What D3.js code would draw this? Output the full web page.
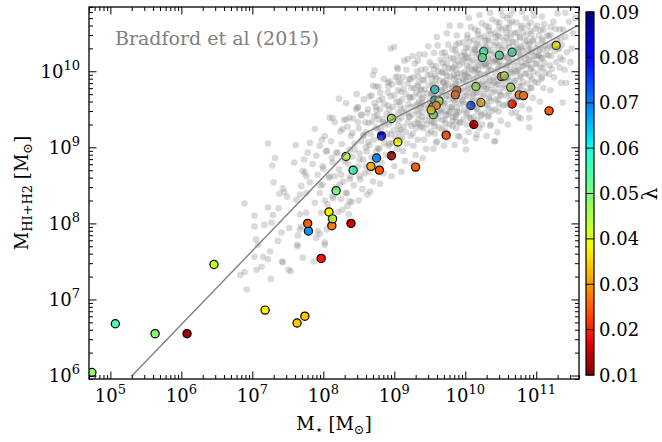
<!DOCTYPE html>
<html><head><meta charset="utf-8">
<script src="https://cdn.jsdelivr.net/npm/d3@7"></script>
<style>body{margin:0;background:#fff} text{font-family:"DejaVu Serif",serif}</style>
</head><body><svg id="c" width="662" height="442"></svg>
<script>
// ---- data (log10 values) ----
const simLogMstar = [4.74,5.07,5.63,6.08,6.46,7.18,7.63,7.74,7.97,7.79,7.78,8.12,8.39,8.08,8.13,8.18,8.42,8.32,8.67,8.79,8.75,8.96,8.82,9.05,9.30,8.96,9.73,10.12,11.18,11.28,10.26,10.24,10.48,10.66,10.51,10.55,10.64,10.76,10.82,10.66,10.22,10.08,10.15,9.88,9.86,9.57,9.57,9.63,9.54,9.59,9.55,9.52];
const simLogMgas  = [6.04,6.68,6.55,6.55,7.46,6.86,6.69,6.78,7.54,7.90,8.00,7.97,8.00,8.15,8.06,8.43,8.70,8.88,8.75,8.70,8.86,8.89,9.15,9.07,8.74,9.38,9.16,9.30,9.48,10.34,10.26,10.18,10.21,10.25,9.93,9.94,9.79,9.69,9.68,9.57,9.59,9.55,9.80,9.75,9.69,9.62,9.76,9.61,9.53,9.55,9.43,9.49];
const simLambda   = [0.048,0.055,0.049,0.012,0.043,0.038,0.034,0.034,0.019,0.068,0.025,0.028,0.016,0.038,0.043,0.05,0.056,0.045,0.032,0.024,0.069,0.013,0.082,0.038,0.025,0.045,0.024,0.013,0.025,0.037,0.055,0.053,0.054,0.057,0.03,0.042,0.045,0.028,0.026,0.019,0.033,0.075,0.046,0.024,0.025,0.063,0.062,0.045,0.034,0.029,0.048,0.035];

const fitLogMstar = [5.298, 8.603, 9.634, 10.572, 11.579];
const fitLogMgas  = [5.99, 9.193, 9.68, 10.075, 10.601];

const bradfordPoints = [
[7.22,9.05],[7.61,9.03],[7.32,8.86],[7.28,8.76],[7.59,8.80],[7.73,8.84],[7.71,8.69],[7.76,8.62],[7.30,8.54],[7.43,8.46],[7.45,8.41],[7.38,8.39],[7.49,8.35],[6.89,8.26],[7.22,8.21],[7.37,8.20],[7.62,8.31],[7.67,8.38],[7.69,8.49],[7.03,8.10],[7.29,8.11],[7.67,8.12],[7.03,7.96],[7.17,7.98],[7.27,8.01],[7.52,7.94],[7.41,7.88],[7.67,7.92],[7.78,8.93],[7.81,9.06],
[7.05,7.79],[7.08,7.72],[7.25,7.63],[7.03,7.56],[7.36,7.77],[7.63,7.72],[7.64,7.84],[7.22,7.53],[7.42,7.50],[7.13,7.43],[7.06,7.39],[6.89,7.36],[6.83,7.32],[7.51,7.39],[7.26,7.27],[6.92,7.13],[7.71,7.55],[7.87,7.50],[7.90,7.81],[8.02,7.72],[7.92,7.90],[8.05,7.92],[7.15,7.56],[7.54,7.37],[7.64,7.70],[7.43,7.49],[7.95,7.86],[8.02,7.75],[7.69,7.96],
[7.88,9.24],[8.02,9.15],[7.95,9.02],[8.11,9.08],[7.90,8.89],[8.04,8.95],[8.18,8.93],[7.85,8.78],[7.99,8.75],[8.13,8.80],[7.74,8.67],[7.92,8.64],[8.09,8.62],[8.25,8.64],[7.81,8.54],[7.99,8.51],[8.23,8.51],[8.37,8.58],[7.76,8.40],[7.95,8.40],[8.13,8.36],[8.32,8.40],[7.88,8.27],[8.06,8.25],[8.37,8.29],[8.27,8.18],[7.97,8.14],[7.76,8.14],[8.34,8.23],[8.51,8.62],[8.60,8.75],[8.51,8.84],[8.44,8.97],[8.27,9.24],[8.41,9.19],[8.56,9.15],[8.16,9.33],[8.32,9.37],[8.49,9.33],[8.53,9.43],[8.72,9.41],[8.84,9.33],
[8.72,10.01],[9.05,10.03],[9.19,10.16],[9.26,10.20],[9.33,10.14],[8.93,9.87],[9.05,9.93],[8.65,9.67],[8.80,9.72],[8.22,9.64],[8.49,9.53],[8.37,9.39],[8.13,9.39],[8.74,9.53],[9.00,10.32],[8.09,9.39],[8.70,9.81],[8.91,9.85],
[8.21,8.15],[8.25,8.32],[8.18,8.47],[8.28,8.55],[8.22,8.71],[8.30,8.82],[8.20,8.93],[8.26,9.04],[8.24,9.21],[8.29,9.36],[8.16,8.62],[8.12,8.86],[8.14,8.33],[8.10,8.05],[8.08,8.60],[8.05,8.95],[8.02,8.30],[8.00,8.72],[7.96,8.50],[7.98,9.10],
[8.36,8.12],[8.40,8.28],[8.33,8.40],[8.43,8.50],[8.38,8.62],[8.45,8.70],[8.35,8.78],[8.41,8.88],[8.37,8.97],[8.44,9.05],[8.39,9.15],[8.34,9.27],[8.42,9.38],[8.46,9.50],[8.32,9.58],
[8.50,8.30],[8.55,8.45],[8.52,8.58],[8.58,8.66],[8.49,8.75],[8.56,8.84],[8.51,8.92],[8.60,9.00],[8.53,9.08],[8.57,9.16],[8.50,9.25],[8.59,9.33],[8.54,9.42],[8.48,9.52],[8.57,9.63],[8.62,8.38],[8.47,9.70],
[8.66,8.42],[8.70,8.55],[8.64,8.68],[8.73,8.78],[8.68,8.87],[8.75,8.95],[8.65,9.03],[8.71,9.10],[8.67,9.18],[8.74,9.26],[8.69,9.34],[8.76,9.42],[8.63,9.50],[8.72,9.58],[8.68,9.68],[8.74,9.80],[8.70,9.95],
[8.80,8.52],[8.85,8.66],[8.82,8.80],[8.88,8.90],[8.79,8.98],[8.86,9.05],[8.83,9.12],[8.90,9.18],[8.81,9.24],[8.87,9.30],[8.84,9.37],[8.89,9.44],[8.80,9.50],[8.86,9.57],[8.83,9.64],[8.91,9.72],[8.78,9.80],[8.85,9.90],[8.95,10.30],[8.92,9.02],[8.93,9.50],
[8.96,8.62],[9.00,8.75],[8.98,8.88],[9.04,8.98],[8.97,9.06],[9.02,9.14],[8.99,9.22],[9.05,9.28],[8.96,9.34],[9.01,9.40],[9.06,9.46],[8.98,9.53],[9.03,9.60],[9.00,9.68],[9.05,9.75],[8.97,9.83],[9.02,9.92],[9.04,10.05],[9.07,9.20],[9.08,9.55],[9.09,9.85],
[9.10,8.68],[9.15,8.82],[9.12,8.95],[9.18,9.05],[9.11,9.13],[9.16,9.20],[9.13,9.27],[9.19,9.33],[9.10,9.39],[9.17,9.45],[9.14,9.51],[9.20,9.57],[9.11,9.63],[9.16,9.70],[9.13,9.77],[9.19,9.84],[9.12,9.92],[9.17,10.02],[9.14,10.14],[9.21,9.40],[9.22,9.66],[9.23,9.90],
[9.25,8.78],[9.30,8.90],[9.27,9.02],[9.33,9.10],[9.26,9.18],[9.31,9.25],[9.28,9.31],[9.34,9.37],[9.25,9.43],[9.32,9.48],[9.29,9.54],[9.35,9.60],[9.26,9.66],[9.31,9.72],[9.28,9.78],[9.34,9.85],[9.27,9.92],[9.32,10.00],[9.29,10.10],[9.35,10.22],[9.36,9.30],[9.37,9.55],[9.38,9.75],
[9.40,8.86],[9.45,8.98],[9.42,9.10],[9.48,9.18],[9.41,9.25],[9.46,9.30],[9.43,9.36],[9.49,9.41],[9.40,9.46],[9.47,9.51],[9.44,9.56],[9.50,9.61],[9.41,9.66],[9.46,9.71],[9.43,9.76],[9.49,9.82],[9.42,9.88],[9.47,9.95],[9.44,10.03],[9.50,10.12],[9.43,10.22],[9.48,10.33],[9.51,9.35],[9.52,9.68],[9.53,9.90],[9.39,9.58],
[9.55,8.98],[9.60,9.08],[9.57,9.18],[9.63,9.26],[9.56,9.32],[9.61,9.38],[9.58,9.43],[9.64,9.48],[9.55,9.53],[9.62,9.58],[9.59,9.63],[9.65,9.68],[9.56,9.73],[9.61,9.78],[9.58,9.83],[9.64,9.88],[9.57,9.94],[9.62,10.00],[9.59,10.07],[9.65,10.15],[9.56,10.24],[9.61,10.34],[9.60,10.45],[9.66,9.45],[9.67,9.75],[9.68,9.98],[9.54,9.70],
[9.70,9.02],[9.75,9.12],[9.72,9.22],[9.78,9.30],[9.71,9.37],[9.76,9.43],[9.73,9.48],[9.79,9.53],[9.70,9.58],[9.77,9.63],[9.74,9.68],[9.80,9.73],[9.71,9.78],[9.76,9.83],[9.73,9.88],[9.79,9.93],[9.72,9.98],[9.77,10.04],[9.74,10.10],[9.80,10.17],[9.71,10.25],[9.76,10.35],[9.74,10.50],[9.81,9.50],[9.82,9.80],[9.83,10.05],[9.69,9.85],[9.78,10.60],
[9.85,9.03],[9.90,9.15],[9.87,9.25],[9.93,9.33],[9.86,9.40],[9.91,9.46],[9.88,9.52],[9.94,9.57],[9.85,9.62],[9.92,9.67],[9.89,9.72],[9.95,9.77],[9.86,9.82],[9.91,9.87],[9.88,9.92],[9.94,9.97],[9.87,10.02],[9.92,10.08],[9.89,10.14],[9.95,10.20],[9.86,10.28],[9.91,10.37],[9.88,10.47],[9.93,10.60],[9.96,9.60],[9.97,9.90],[9.98,10.15],[9.84,9.95],
[10.00,9.08],[10.05,9.20],[10.02,9.30],[10.08,9.38],[10.01,9.45],[10.06,9.51],[10.03,9.57],[10.09,9.62],[10.00,9.67],[10.07,9.72],[10.04,9.77],[10.10,9.82],[10.01,9.87],[10.06,9.92],[10.03,9.97],[10.09,10.02],[10.02,10.07],[10.07,10.12],[10.04,10.18],[10.10,10.24],[10.01,10.31],[10.06,10.39],[10.03,10.48],[10.08,10.58],[10.05,10.70],[10.11,9.70],[10.12,10.00],[10.13,10.30],[9.99,9.95],[10.00,10.22],
[10.15,9.12],[10.20,9.25],[10.17,9.35],[10.23,9.43],[10.16,9.50],[10.21,9.56],[10.18,9.62],[10.24,9.67],[10.15,9.72],[10.22,9.77],[10.19,9.82],[10.25,9.87],[10.16,9.92],[10.21,9.97],[10.18,10.02],[10.24,10.07],[10.17,10.12],[10.22,10.17],[10.19,10.23],[10.25,10.29],[10.16,10.36],[10.21,10.44],[10.18,10.53],[10.23,10.63],[10.20,10.74],[10.26,9.80],[10.27,10.10],[10.28,10.40],[10.14,10.05],[10.15,10.28],
[10.30,9.15],[10.35,9.28],[10.32,9.40],[10.38,9.48],[10.31,9.55],[10.36,9.61],[10.33,9.67],[10.39,9.72],[10.30,9.77],[10.37,9.82],[10.34,9.87],[10.40,9.92],[10.31,9.97],[10.36,10.02],[10.33,10.07],[10.39,10.12],[10.32,10.17],[10.37,10.22],[10.34,10.28],[10.40,10.34],[10.31,10.41],[10.36,10.49],[10.33,10.58],[10.38,10.68],[10.35,10.77],[10.41,9.85],[10.42,10.15],[10.43,10.45],[10.29,10.10],[10.30,10.32],
[10.45,9.20],[10.50,9.35],[10.47,9.47],[10.53,9.55],[10.46,9.62],[10.51,9.68],[10.48,9.73],[10.54,9.78],[10.45,9.83],[10.52,9.88],[10.49,9.93],[10.55,9.98],[10.46,10.03],[10.51,10.08],[10.48,10.13],[10.54,10.18],[10.47,10.23],[10.52,10.28],[10.49,10.34],[10.55,10.40],[10.46,10.47],[10.51,10.55],[10.48,10.64],[10.53,10.73],[10.56,9.90],[10.57,10.20],[10.58,10.50],[10.44,10.15],[10.50,10.80],
[10.60,9.30],[10.65,9.45],[10.62,9.56],[10.68,9.64],[10.61,9.71],[10.66,9.77],[10.63,9.82],[10.69,9.87],[10.60,9.92],[10.67,9.97],[10.64,10.02],[10.70,10.07],[10.61,10.12],[10.66,10.17],[10.63,10.22],[10.69,10.27],[10.62,10.32],[10.67,10.38],[10.64,10.44],[10.70,10.50],[10.61,10.57],[10.66,10.65],[10.63,10.74],[10.71,10.00],[10.72,10.30],[10.59,10.08],[10.68,10.80],
[10.75,9.40],[10.80,9.55],[10.77,9.66],[10.83,9.74],[10.76,9.80],[10.81,9.86],[10.78,9.92],[10.84,9.97],[10.75,10.02],[10.82,10.07],[10.79,10.12],[10.85,10.17],[10.76,10.22],[10.81,10.27],[10.78,10.33],[10.84,10.39],[10.77,10.45],[10.82,10.52],[10.79,10.60],[10.85,10.70],[10.86,10.10],[10.87,10.40],[10.74,10.30],[10.80,10.78],
[10.90,9.50],[10.95,9.65],[10.92,9.78],[10.98,9.86],[10.91,9.93],[10.96,9.99],[10.93,10.05],[10.99,10.10],[10.90,10.15],[10.97,10.20],[10.94,10.25],[11.00,10.30],[10.91,10.36],[10.96,10.42],[10.93,10.49],[10.99,10.56],[10.92,10.64],[10.97,10.73],[11.01,10.20],[10.89,10.28],[10.95,10.80],
[11.05,9.60],[11.10,9.78],[11.07,9.90],[11.13,9.98],[11.06,10.05],[11.11,10.11],[11.08,10.17],[11.14,10.22],[11.05,10.28],[11.12,10.34],[11.09,10.40],[11.15,10.47],[11.06,10.54],[11.11,10.62],[11.08,10.72],[11.16,10.30],[11.04,10.20],
[11.20,9.75],[11.25,9.92],[11.22,10.03],[11.28,10.12],[11.21,10.20],[11.26,10.27],[11.23,10.34],[11.29,10.41],[11.20,10.48],[11.27,10.56],[11.24,10.65],[11.30,10.76],[11.31,10.30],
[11.35,9.85],[11.40,10.02],[11.37,10.15],[11.43,10.25],[11.36,10.35],[11.41,10.45],[11.38,10.55],[11.46,10.65],[11.50,10.30],[11.48,10.12],[11.52,10.50],[11.55,10.70],
[11.41,10.77],[10.01,8.97],[10.41,9.08],[9.59,9.06],[10.90,9.39],[11.37,9.59],[11.42,9.85],
[9.78,9.46],[9.87,9.43],[9.82,9.35],[9.92,9.32],[10.06,9.39],[9.92,9.14],[10.16,9.17],[10.22,9.41],[10.24,9.30],[10.36,9.30],[10.33,9.42],[10.42,9.08],[10.78,9.38],[10.90,9.26],[10.71,9.46],
// denser core, second pass
[8.61,8.95],[8.63,9.07],[8.60,9.20],[8.64,9.32],[8.62,9.45],
[8.77,8.99],[8.79,9.12],[8.76,9.24],[8.78,9.37],[8.75,9.49],[8.79,9.62],
[8.93,9.05],[8.95,9.17],[8.92,9.30],[8.94,9.42],[8.91,9.55],[8.95,9.67],[8.92,9.80],
[9.08,9.10],[9.09,9.23],[9.06,9.35],[9.10,9.48],[9.07,9.60],[9.09,9.73],[9.06,9.86],
[9.23,9.15],[9.24,9.28],[9.21,9.40],[9.23,9.53],[9.22,9.65],[9.24,9.78],[9.21,9.90],
[9.33,9.32],[9.34,9.44],[9.32,9.57],[9.35,9.69],[9.33,9.81],[9.34,9.93],
[9.38,9.27],[9.39,9.40],[9.37,9.52],[9.39,9.64],[9.37,9.77],[9.40,9.89],[9.38,10.02],
[9.52,9.21],[9.53,9.33],[9.51,9.46],[9.53,9.58],[9.52,9.71],[9.54,9.83],[9.51,9.96],[9.53,10.08],
[9.57,9.28],[9.58,9.41],[9.56,9.52],[9.58,9.66],[9.57,9.78],[9.59,9.91],[9.56,10.03],
[9.67,9.24],[9.68,9.36],[9.66,9.49],[9.68,9.61],[9.67,9.73],[9.69,9.86],[9.66,9.99],[9.68,10.11],[9.67,10.24],
[9.72,9.31],[9.73,9.43],[9.71,9.56],[9.73,9.68],[9.72,9.81],[9.74,9.94],[9.71,10.06],[9.73,10.19],
[9.82,9.28],[9.83,9.40],[9.81,9.53],[9.83,9.65],[9.82,9.78],[9.84,9.90],[9.81,10.03],[9.83,10.16],[9.82,10.29],
[9.87,9.34],[9.88,9.47],[9.86,9.59],[9.88,9.72],[9.87,9.84],[9.89,9.97],[9.86,10.09],[9.88,10.22],[9.87,10.35],
[9.97,9.37],[9.98,9.49],[9.96,9.62],[9.98,9.74],[9.97,9.87],[9.99,9.99],[9.96,10.12],[9.98,10.25],[9.97,10.38],
[10.03,9.43],[10.04,9.55],[10.02,9.68],[10.04,9.80],[10.03,9.93],[10.05,10.05],[10.02,10.18],[10.04,10.31],[10.03,10.44],
[10.12,9.40],[10.13,9.53],[10.11,9.65],[10.13,9.78],[10.12,9.90],[10.14,10.03],[10.11,10.15],[10.13,10.28],[10.12,10.41],[10.14,10.55],
[10.18,9.47],[10.19,9.59],[10.17,9.72],[10.19,9.84],[10.18,9.97],[10.20,10.09],[10.17,10.22],[10.19,10.35],[10.18,10.48],
[10.27,9.45],[10.28,9.58],[10.26,9.70],[10.28,9.83],[10.27,9.95],[10.29,10.08],[10.26,10.20],[10.28,10.33],[10.27,10.46],[10.29,10.60],
[10.33,9.51],[10.34,9.64],[10.32,9.76],[10.34,9.89],[10.33,10.01],[10.35,10.14],[10.32,10.27],[10.34,10.40],[10.33,10.53],
[10.42,9.50],[10.43,9.63],[10.41,9.75],[10.43,9.88],[10.42,10.00],[10.44,10.13],[10.41,10.25],[10.43,10.38],[10.42,10.51],[10.44,10.65],
[10.48,9.57],[10.49,9.69],[10.47,9.82],[10.49,9.94],[10.48,10.07],[10.50,10.19],[10.47,10.32],[10.49,10.45],[10.48,10.58],
[10.57,9.56],[10.58,9.68],[10.56,9.81],[10.58,9.93],[10.57,10.06],[10.59,10.18],[10.56,10.31],[10.58,10.44],[10.57,10.57],[10.59,10.70],
[10.63,9.62],[10.64,9.74],[10.62,9.87],[10.64,9.99],[10.63,10.12],[10.65,10.24],[10.62,10.37],[10.64,10.50],[10.63,10.63],
[10.72,9.63],[10.73,9.75],[10.71,9.88],[10.73,10.00],[10.72,10.13],[10.74,10.25],[10.71,10.38],[10.73,10.51],[10.72,10.64],
[10.78,9.69],[10.79,9.81],[10.77,9.94],[10.79,10.06],[10.78,10.19],[10.80,10.31],[10.77,10.44],[10.79,10.57],
[10.87,9.72],[10.88,9.84],[10.86,9.97],[10.88,10.09],[10.87,10.22],[10.89,10.34],[10.86,10.47],[10.88,10.60],
[10.93,9.78],[10.94,9.90],[10.92,10.03],[10.94,10.15],[10.93,10.28],[10.95,10.40],[10.92,10.53],
[11.02,9.85],[11.03,9.97],[11.01,10.10],[11.03,10.22],[11.02,10.35],[11.04,10.47],[11.01,10.60],
[11.08,9.92],[11.09,10.04],[11.07,10.17],[11.09,10.29],[11.08,10.42],[11.10,10.55],
[11.18,9.96],[11.19,10.08],[11.17,10.21],[11.19,10.33],[11.18,10.46],[11.20,10.58],
[11.33,10.05],[11.34,10.18],[11.32,10.30],[11.34,10.43],[11.33,10.55]
];

const xTickExps = [5,6,7,8,9,10,11];
const yTickExps = [6,7,8,9,10];
const cbTicks = [0.01,0.02,0.03,0.04,0.05,0.06,0.07,0.08,0.09];

// ---- layout ----
const L=89, R=579, T=7, B=379;
const svg = d3.select("#c");
const x = d3.scaleLog().domain([5e4, 4e11]).range([L, R]);
const y = d3.scaleLog().domain([9e5, 7e10]).range([B, T]);

// jet colormap (matplotlib segment data), reversed
const jr = d3.scaleLinear().domain([0,0.35,0.66,0.89,1]).range([0,0,1,1,0.5]).clamp(true);
const jg = d3.scaleLinear().domain([0,0.125,0.375,0.64,0.91,1]).range([0,0,1,1,0,0]).clamp(true);
const jb = d3.scaleLinear().domain([0,0.11,0.34,0.65,1]).range([0.5,1,1,0,0]).clamp(true);
const jet = t => d3.rgb(jr(t)*255, jg(t)*255, jb(t)*255).toString();
const lam = d3.scaleLinear().domain([0.01, 0.09]).range([1, 0]).clamp(true);
const color = v => jet(lam(v));

svg.append("clipPath").attr("id","clip").append("rect").attr("x",L).attr("y",T).attr("width",R-L).attr("height",B-T);
const plot = svg.append("g").attr("clip-path","url(#clip)");

// simulated galaxies
const sim = simLogMstar.map((m,i)=>({m, g: simLogMgas[i], l: simLambda[i]}));
plot.selectAll("circle.sim").data(sim).join("circle").attr("class","sim")
  .attr("cx", d=>x(10**d.m)).attr("cy", d=>y(10**d.g)).attr("r", 4.1)
  .attr("fill", d=>color(d.l)).attr("stroke","#000").attr("stroke-width",1.2);

// Bradford observations
plot.selectAll("circle.obs").data(bradfordPoints).join("circle").attr("class","obs")
  .attr("cx", d=>x(10**d[0])).attr("cy", d=>y(10**d[1])).attr("r", 3.3)
  .attr("fill","#808080").attr("fill-opacity",0.29);

// fit line
const fit = fitLogMstar.map((m,i)=>[m, fitLogMgas[i]]);
plot.append("path").datum(fit)
  .attr("d", d3.line().x(d=>x(10**d[0])).y(d=>y(10**d[1])))
  .attr("fill","none").attr("stroke","#808080").attr("stroke-width",1.4);

// axes ticks
function minors(lo, hi){ const a=[]; for(let k=lo;k<=hi;k++) for(let m=2;m<=9;m++) a.push(m*10**k); return a; }
const xMaj = xTickExps.map(e=>10**e), yMaj = yTickExps.map(e=>10**e);
const xMin = minors(4,11).filter(v=>v>=5e4&&v<=4e11);
const yMin = minors(5,10).filter(v=>v>=9e5&&v<=7e10);
function tickSet(g, gen, vals, size){
  g.call(gen.tickValues(vals).tickSize(size).tickFormat(""));
  g.select(".domain").remove();
  g.selectAll("line").attr("stroke","#000").attr("stroke-width",1);
}
tickSet(svg.append("g").attr("transform",`translate(0,${B})`), d3.axisBottom(x), xMaj, -7.5);
tickSet(svg.append("g").attr("transform",`translate(0,${B})`), d3.axisBottom(x), xMin, -4);
tickSet(svg.append("g").attr("transform",`translate(0,${T})`), d3.axisTop(x), xMaj, -7.5);
tickSet(svg.append("g").attr("transform",`translate(0,${T})`), d3.axisTop(x), xMin, -4);
tickSet(svg.append("g").attr("transform",`translate(${L},0)`), d3.axisLeft(y), yMaj, -7.5);
tickSet(svg.append("g").attr("transform",`translate(${L},0)`), d3.axisLeft(y), yMin, -4);
tickSet(svg.append("g").attr("transform",`translate(${R},0)`), d3.axisRight(y), yMaj, -7.5);
tickSet(svg.append("g").attr("transform",`translate(${R},0)`), d3.axisRight(y), yMin, -4);
svg.append("rect").attr("x",L).attr("y",T).attr("width",R-L).attr("height",B-T)
  .attr("fill","none").attr("stroke","#000").attr("stroke-width",1.3);

// tick labels
const FS=18, SS=13;
xTickExps.forEach(e=>{
  const t = svg.append("text").attr("x", x(10**e)).attr("y", 402).attr("text-anchor","middle").attr("font-size",FS);
  t.append("tspan").text("10");
  t.append("tspan").attr("font-size",SS).attr("dy",-8).text(e);
});
yTickExps.forEach(e=>{
  const t = svg.append("text").attr("x", 80).attr("y", y(10**e)+6.5).attr("text-anchor","end").attr("font-size",FS);
  t.append("tspan").text("10");
  t.append("tspan").attr("font-size",SS).attr("dy",-8).text(e);
});

// axis labels
const xl = svg.append("text").attr("x",(L+R)/2).attr("y",430).attr("text-anchor","middle").attr("font-size",FS);
xl.append("tspan").text("M");
xl.append("tspan").attr("font-size",SS).attr("dy",4).text("\u22C6");
xl.append("tspan").attr("dy",-4).text(" [M");
xl.append("tspan").attr("font-size",SS).attr("dy",4).text("\u2299");
xl.append("tspan").attr("dy",-4).text("]");

const yl = svg.append("text").attr("transform",`translate(28,${(T+B)/2}) rotate(-90)`).attr("text-anchor","middle").attr("font-size",FS);
yl.append("tspan").text("M");
yl.append("tspan").attr("font-size",SS).attr("dy",4).text("HI+H2");
yl.append("tspan").attr("dy",-4).text(" [M");
yl.append("tspan").attr("font-size",SS).attr("dy",4).text("\u2299");
yl.append("tspan").attr("dy",-4).text("]");

svg.append("text").attr("x",115).attr("y",45).attr("font-size",19).attr("fill","#808080").text("Bradford et al (2015)");

// colorbar
const cbX=586, cbW=8;
const cb = d3.scaleLinear().domain([0.01,0.09]).range([375,12]);
const grad = svg.append("defs").append("linearGradient").attr("id","jetg").attr("x1",0).attr("y1",1).attr("x2",0).attr("y2",0);
d3.range(0,1.0001,0.02).forEach(t=>{
  grad.append("stop").attr("offset",t).attr("stop-color", color(0.01+0.08*t));
});
svg.append("rect").attr("x",cbX).attr("y",cb(0.09)).attr("width",cbW).attr("height",cb(0.01)-cb(0.09)).attr("fill","url(#jetg)");
svg.selectAll("line.cbt").data(cbTicks).join("line").attr("class","cbt")
  .attr("x1",cbX).attr("x2",cbX+cbW).attr("y1",d=>cb(d)).attr("y2",d=>cb(d)).attr("stroke","#000").attr("stroke-width",1);
svg.append("rect").attr("x",cbX).attr("y",cb(0.09)).attr("width",cbW).attr("height",cb(0.01)-cb(0.09)).attr("fill","none").attr("stroke","#000").attr("stroke-width",1.2);
svg.selectAll("text.cbl").data(cbTicks).join("text").attr("class","cbl")
  .attr("x",599).attr("y",d=>cb(d)+6.5).attr("font-size",FS).text(d=>d.toFixed(2));
svg.append("text").attr("transform",`translate(657,194) rotate(-90)`).attr("text-anchor","middle").attr("font-size",20).text("\u03BB");
</script></body></html>
